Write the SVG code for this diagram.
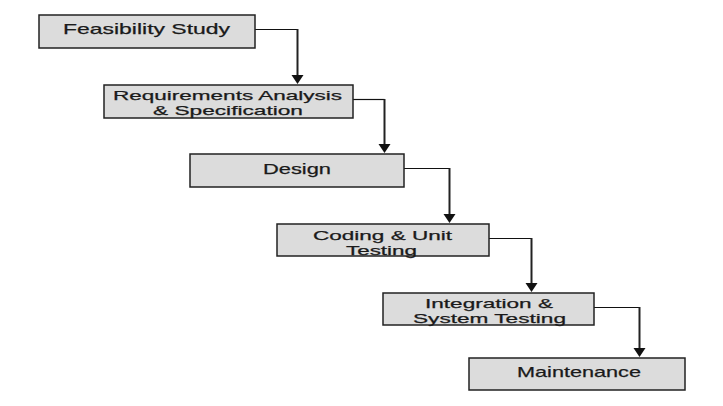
<svg xmlns="http://www.w3.org/2000/svg" width="723" height="406" viewBox="0 0 723 406">
<style>
.box{fill:#dcdcdc;stroke:#222;stroke-width:1.5}
.t{font-family:"Liberation Sans",Arial,sans-serif;font-size:15px;fill:#1a1a1a;text-anchor:middle;stroke:#1a1a1a;stroke-width:0.25}
.t2{font-family:"Liberation Sans",Arial,sans-serif;font-size:13.3px;fill:#1a1a1a;text-anchor:middle;stroke:#1a1a1a;stroke-width:0.25}
.h{fill:none;stroke:#111;stroke-width:1.2}
.v{fill:none;stroke:#222;stroke-width:2}
.ah{fill:#111}
</style>
<rect width="723" height="406" fill="#fff"/>
<g id="connectors">
<path class="h" d="M255,29.5 H297.5"/><path class="v" d="M297.5,29 V76"/><path class="ah" d="M291.5,75 L303.5,75 L297.5,84 Z"/>
<path class="h" d="M353,99.5 H384.5"/><path class="v" d="M384.5,99 V145"/><path class="ah" d="M378.5,144 L390.5,144 L384.5,153 Z"/>
<path class="h" d="M404,168.5 H449.5"/><path class="v" d="M449.5,168 V215"/><path class="ah" d="M443.5,214 L455.5,214 L449.5,223 Z"/>
<path class="h" d="M489,238.5 H531.5"/><path class="v" d="M531.5,238 V284"/><path class="ah" d="M525.5,283 L537.5,283 L531.5,292 Z"/>
<path class="h" d="M594,307.5 H639.5"/><path class="v" d="M639.5,307 V349"/><path class="ah" d="M633.5,348 L645.5,348 L639.5,357 Z"/>
</g>
<g id="feasibility">
<rect class="box" x="39" y="15" width="216" height="33"/>
<text class="t" x="146.5" y="34" textLength="167" lengthAdjust="spacingAndGlyphs">Feasibility Study</text>
</g>
<g id="requirements">
<rect class="box" x="104" y="85" width="249" height="33"/>
<text class="t2" x="227.5" y="99.5" textLength="229" lengthAdjust="spacingAndGlyphs">Requirements Analysis</text>
<text class="t2" x="228" y="114.5" textLength="150" lengthAdjust="spacingAndGlyphs">&amp; Specification</text>
</g>
<g id="design">
<rect class="box" x="190" y="154" width="214" height="33"/>
<text class="t" x="297" y="174" textLength="68" lengthAdjust="spacingAndGlyphs">Design</text>
</g>
<g id="coding">
<rect class="box" x="277" y="224" width="212" height="32"/>
<text class="t2" x="382.5" y="239.5" textLength="139" lengthAdjust="spacingAndGlyphs">Coding &amp; Unit</text>
<text class="t2" x="381.5" y="254.5" textLength="71" lengthAdjust="spacingAndGlyphs">Testing</text>
</g>
<g id="integration">
<rect class="box" x="383" y="293" width="211" height="32"/>
<text class="t2" x="489" y="307.5" textLength="128" lengthAdjust="spacingAndGlyphs">Integration &amp;</text>
<text class="t2" x="489.5" y="322.5" textLength="153" lengthAdjust="spacingAndGlyphs">System Testing</text>
</g>
<g id="maintenance">
<rect class="box" x="469" y="358" width="216" height="32"/>
<text class="t" x="579" y="376.5" textLength="124" lengthAdjust="spacingAndGlyphs">Maintenance</text>
</g>
</svg>
